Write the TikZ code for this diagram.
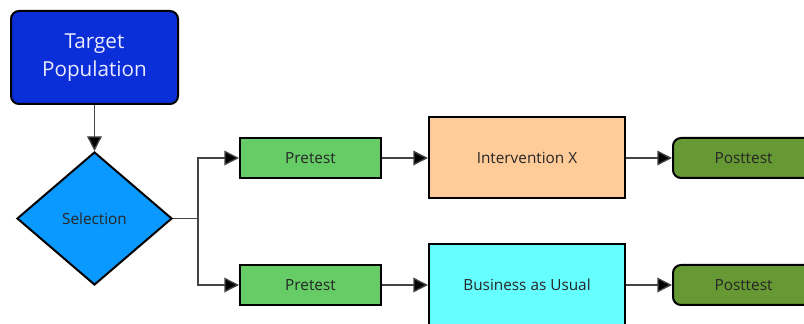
\documentclass[tikz,border=0pt]{standalone}
\usepackage{fontspec}
\setmainfont{Open Sans}
\usetikzlibrary{arrows.meta,shapes.geometric,positioning}
\definecolor{tgtblue}{HTML}{0A2ED8}
\definecolor{selblue}{HTML}{0A99FF}
\definecolor{pregreen}{HTML}{66CC66}
\definecolor{interv}{HTML}{FFCC99}
\definecolor{bau}{HTML}{66FFFF}
\definecolor{postgreen}{HTML}{669933}
\definecolor{linegrey}{HTML}{444444}
\tikzset{
  box/.style={draw=black, line width=1.5pt, inner sep=0pt, font=\fontsize{11.5}{13}\selectfont, text=black!85},
  pre/.style={box, fill=pregreen, minimum width=105.75pt, minimum height=30pt},
  mid/.style={box, fill=#1, minimum width=147pt, minimum height=60.75pt},
  post/.style={box, fill=postgreen, rounded corners=6pt, minimum width=105.75pt, minimum height=30pt},
  conn/.style={draw=linegrey, line width=1pt, -{Triangle[length=11pt,width=11pt,fill=black]}},
}
\begin{document}
\begin{tikzpicture}[x=0.75pt,y=-0.75pt]
\useasboundingbox (0,0) rectangle (804,324);
\clip (0,0) rectangle (804,324);
\node[box, fill=tgtblue, rounded corners=6pt, minimum width=125.25pt, minimum height=69.75pt, text=white!92!blue, font=\fontsize{15.5}{20.5}\selectfont, align=center] (tgt) at (94.5,57.5) {\raisebox{-3pt}{Target}\\\raisebox{-3pt}{Population}};
\node[diamond, draw=black, line width=1.5pt, fill=selblue, minimum width=116.25pt, minimum height=99.75pt, inner sep=0pt, font=\fontsize{11.5}{13}\selectfont, text=black!85] (sel) at (94.5,218.5) {Selection};
\node[pre] (pre1) at (310.5,158) {Pretest};
\node[pre] (pre2) at (310.5,285) {Pretest};
\node[mid=interv] (int) at (527,157.5) {Intervention X};
\node[mid=bau] (bau) at (527,285) {Business as Usual};
\node[post] (post1) at (743.5,158) {Posttest};
\node[post] (post2) at (743.5,285) {Posttest};
\coordinate (split) at (198,218.5);
\draw[conn] (tgt.south) -- (sel.north);
\draw[draw=linegrey, line width=1pt] (sel.east) -- (split);
\draw[conn] (split) |- (pre1.west);
\draw[conn] (split) |- (pre2.west);
\draw[conn] (pre1.east) -- (int.west |- pre1.east);
\draw[conn] (pre2.east) -- (bau.west |- pre2.east);
\draw[conn] (int.east |- post1.west) -- (post1.west);
\draw[conn] (bau.east |- post2.west) -- (post2.west);
\end{tikzpicture}
\end{document}
